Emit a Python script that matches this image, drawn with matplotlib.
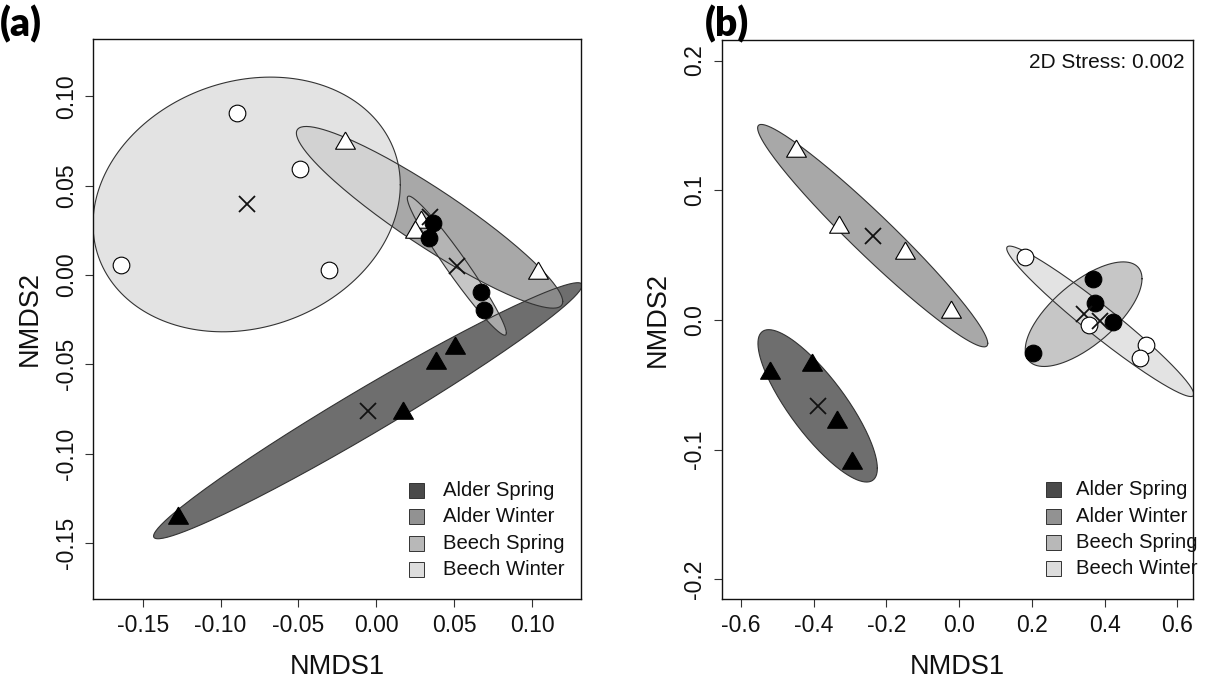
import numpy as np
import matplotlib
matplotlib.use("Agg")
import matplotlib.pyplot as plt
from matplotlib.patches import Rectangle

plt.rcParams['font.family'] = ['Liberation Sans', 'DejaVu Sans']
plt.rcParams['axes.unicode_minus'] = False

# ---------------- data ----------------
groups = ['Alder Spring', 'Alder Winter', 'Beech Spring', 'Beech Winter']

# panel (a)
a_alder_spring_x = [-0.1276, 0.0171, 0.0380, 0.0508]
a_alder_spring_y = [-0.1362, -0.0774, -0.0494, -0.0410]
a_alder_winter_x = [-0.0203, 0.1036, 0.0288, 0.0246]
a_alder_winter_y = [0.0741, 0.0010, 0.0298, 0.0242]
a_beech_spring_x = [0.0367, 0.0337, 0.0669, 0.0694]
a_beech_spring_y = [0.0293, 0.0205, -0.0093, -0.0196]
a_beech_winter_x = [-0.0893, -0.0492, -0.1641, -0.0304]
a_beech_winter_y = [0.0905, 0.0592, 0.0054, 0.0028]

# panel (b)
b_alder_spring_x = [-0.521, -0.404, -0.3355, -0.296]
b_alder_spring_y = [-0.0411, -0.0347, -0.0784, -0.1105]
b_alder_winter_x = [-0.450, -0.331, -0.148, -0.022]
b_alder_winter_y = [0.1305, 0.0719, 0.0514, 0.0064]
b_beech_spring_x = [0.3685, 0.375, 0.4235, 0.2025]
b_beech_spring_y = [0.0316, 0.0134, -0.0013, -0.0257]
b_beech_winter_x = [0.1824, 0.3565, 0.515, 0.4987]
b_beech_winter_y = [0.0488, -0.0039, -0.0193, -0.0296]

a_xticks = [-0.15, -0.10, -0.05, 0.00, 0.05, 0.10]
a_yticks = [-0.15, -0.10, -0.05, 0.00, 0.05, 0.10]
b_xticks = [-0.6, -0.4, -0.2, 0.0, 0.2, 0.4, 0.6]
b_yticks = [-0.2, -0.1, 0.0, 0.1, 0.2]
stress_text = '2D Stress: 0.002'
ellipse_conf = 0.75

# ---------------- styles ----------------
fill_colors = ['#4a4a4a', '#929292', '#b8b8b8', '#dddddd']
marker_shapes = ['tri', 'tri', 'o', 'o']
marker_faces = ['black', 'white', 'black', 'white']
tri = [(0, 1), (-0.866, -0.5), (0.866, -0.5), (0, 1)]


def cov_ellipse(x, y, conf, n=200):
    pts = np.column_stack([x, y])
    c = pts.mean(axis=0)
    cov = np.cov(pts.T)
    scale = np.sqrt(-2 * np.log(1 - conf))
    t = np.linspace(0, 2 * np.pi, n)
    circ = np.column_stack([np.cos(t), np.sin(t)])
    L = np.linalg.cholesky(cov)
    e = c + scale * circ @ L.T
    return e[:, 0], e[:, 1], c


def draw_panel(ax, data, xlim, ylim, xticks, yticks, fmt):
    cents = []
    for (x, y), col in zip(data, fill_colors):
        ex, ey, c = cov_ellipse(x, y, ellipse_conf)
        ax.fill(ex, ey, facecolor=col, alpha=0.8, edgecolor='none', zorder=1)
        ax.plot(ex, ey, color='#333333', lw=0.8, zorder=1.1)
        cents.append(c)
    for i, ((x, y), shp, fc) in enumerate(zip(data, marker_shapes, marker_faces)):
        if shp == 'tri':
            ax.plot(x, y, linestyle='none', marker=tri, markersize=16.5,
                    markerfacecolor=fc, markeredgecolor='black',
                    markeredgewidth=0.8, zorder=3 + i)
        else:
            ax.plot(x, y, linestyle='none', marker='o', markersize=12,
                    markerfacecolor=fc, markeredgecolor='black',
                    markeredgewidth=0.8, zorder=3 + i)
        ax.plot(cents[i][0], cents[i][1], linestyle='none', marker='x',
                markersize=12, markeredgewidth=1.3, color='#111111',
                zorder=3 + i)
    ax.set_xlim(*xlim)
    ax.set_ylim(*ylim)
    ax.set_xticks(xticks)
    ax.set_xticklabels([fmt.format(v) for v in xticks])
    ax.set_yticks(yticks)
    ax.set_yticklabels([fmt.format(v) for v in yticks], rotation=90,
                       va='center')
    ax.tick_params(direction='out', length=6, width=0.8, color='#333333',
                   labelsize=16.5, labelcolor='#111111', pad=5)
    for sp in ax.spines.values():
        sp.set_linewidth(1.0)
        sp.set_color('#111111')
    ax.set_xlabel('NMDS1', fontsize=19.5, labelpad=12, color='#111111')
    ax.set_ylabel('NMDS2', fontsize=19.5, labelpad=9, color='#111111')


def draw_legend(ax, ax_px, sq_left, txt_left, rows, sq=15):
    left, right, top, bottom = ax_px
    w = right - left
    h = bottom - top
    for lab, col, ry in zip(groups, fill_colors, rows):
        ax.add_patch(Rectangle(((sq_left - left) / w, (bottom - ry - sq / 2) / h),
                               sq / w, sq / h, transform=ax.transAxes,
                               facecolor=col, edgecolor='#333333', lw=0.7,
                               zorder=10, clip_on=False))
        ax.text((txt_left - left) / w, (bottom - ry) / h, lab,
                transform=ax.transAxes, ha='left', va='center',
                fontsize=14.6, color='#111111', zorder=10)


W, H = 1220, 681
fig = plt.figure(figsize=(W / 100, H / 100), dpi=100)

a_px = (93.3, 581.0, 39.0, 599.0)
b_px = (721.7, 1193.3, 40.0, 599.0)
axA = fig.add_axes([a_px[0] / W, 1 - a_px[3] / H, (a_px[1] - a_px[0]) / W,
                    (a_px[3] - a_px[2]) / H])
axB = fig.add_axes([b_px[0] / W, 1 - b_px[3] / H, (b_px[1] - b_px[0]) / W,
                    (b_px[3] - b_px[2]) / H])

data_a = [(a_alder_spring_x, a_alder_spring_y), (a_alder_winter_x, a_alder_winter_y),
          (a_beech_spring_x, a_beech_spring_y), (a_beech_winter_x, a_beech_winter_y)]
data_b = [(b_alder_spring_x, b_alder_spring_y), (b_alder_winter_x, b_alder_winter_y),
          (b_beech_spring_x, b_beech_spring_y), (b_beech_winter_x, b_beech_winter_y)]

draw_panel(axA, data_a, (-0.1817, 0.1314), (-0.1814, 0.1321), a_xticks, a_yticks, '{:.2f}')
draw_panel(axB, data_b, (-0.653, 0.644), (-0.2151, 0.2159), b_xticks, b_yticks, '{:.1f}')

draw_legend(axA, a_px, 409, 442.7, [490, 516.7, 543.3, 569.3])
draw_legend(axB, b_px, 1046, 1076, [490, 516.7, 542.7, 568.3])

axB.text(0.982, 0.9606, stress_text, transform=axB.transAxes, ha='right',
         va='center', fontsize=15, color='#111111')

fig.text(0.0, 1 - 5 / H, '(a)', ha='left', va='top', fontsize=28,
         fontweight='heavy', family=['Lato', 'DejaVu Sans'])
fig.text(705 / W, 1 - 5 / H, '(b)', ha='left', va='top', fontsize=28,
         fontweight='heavy', family=['Lato', 'DejaVu Sans'])

fig.savefig('out.png', dpi=100)
